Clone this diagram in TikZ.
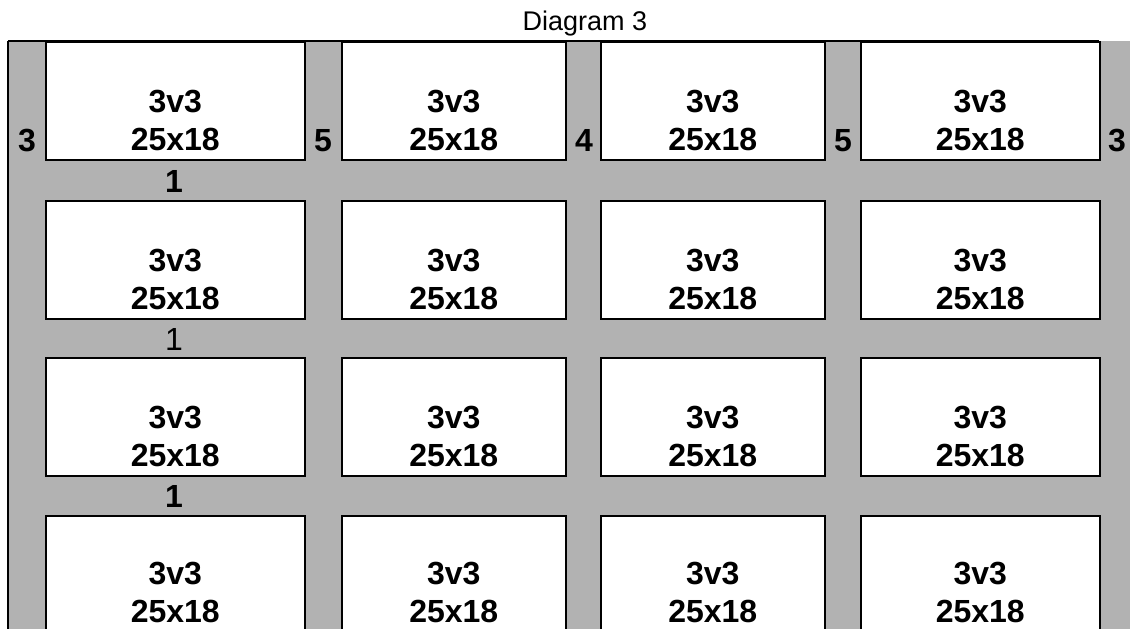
\documentclass[tikz,border=0pt]{standalone}
\usepackage{fontspec}
\setmainfont{Liberation Sans}
\usepackage{tikz}
\usetikzlibrary{positioning,calc}
\colorlet{gapGray}{black!30}

\begin{document}
\begin{tikzpicture}[x=1pt, y=-1pt,
    cell/.style={draw, fill=white, line width=1.5pt, anchor=north west, inner sep=0pt, minimum height=118pt},
    celltxt/.style={font=\bfseries\fontsize{32}{38}\selectfont, align=center, inner sep=0pt, anchor=south},
    gapnum/.style={font=\bfseries\fontsize{32}{38}\selectfont, inner sep=0pt, anchor=base}]
    \clip (0,0) rectangle (1130,629);
    % grey floor and its outer edges
    \fill[gapGray] (8,41) rectangle (1130,629);
    \draw[line width=1.5pt] (8,41) -- (1099,41);
    \draw[line width=2pt] (8,41) -- (8,629);
    \node[font=\fontsize{27}{32}\selectfont, inner sep=0pt, anchor=base] (title) at (585,30) {Diagram 3};
    % row 1
    \node[cell, minimum width=259pt] (c11) at (45,41) {};
    \node[cell, minimum width=224pt] (c12) at (341,41) {};
    \node[cell, minimum width=224pt] (c13) at (600,41) {};
    \node[cell, minimum width=239pt] (c14) at (860,41) {};
    % row 2
    \node[cell, minimum width=259pt] (c21) at (45,200) {};
    \node[cell, minimum width=224pt] (c22) at (341,200) {};
    \node[cell, minimum width=224pt] (c23) at (600,200) {};
    \node[cell, minimum width=239pt] (c24) at (860,200) {};
    % row 3
    \node[cell, minimum width=259pt] (c31) at (45,357) {};
    \node[cell, minimum width=224pt] (c32) at (341,357) {};
    \node[cell, minimum width=224pt] (c33) at (600,357) {};
    \node[cell, minimum width=239pt] (c34) at (860,357) {};
    % row 4
    \node[cell, minimum width=259pt] (c41) at (45,515) {};
    \node[cell, minimum width=224pt] (c42) at (341,515) {};
    \node[cell, minimum width=224pt] (c43) at (600,515) {};
    \node[cell, minimum width=239pt] (c44) at (860,515) {};
    % court texts
    \node[celltxt] (t11) at ([yshift=9pt]c11.south) {3v3\\25x18};
    \node[celltxt] (t12) at ([yshift=9pt]c12.south) {3v3\\25x18};
    \node[celltxt] (t13) at ([yshift=9pt]c13.south) {3v3\\25x18};
    \node[celltxt] (t14) at ([yshift=9pt]c14.south) {3v3\\25x18};
    \node[celltxt] (t21) at ([yshift=9pt]c21.south) {3v3\\25x18};
    \node[celltxt] (t22) at ([yshift=9pt]c22.south) {3v3\\25x18};
    \node[celltxt] (t23) at ([yshift=9pt]c23.south) {3v3\\25x18};
    \node[celltxt] (t24) at ([yshift=9pt]c24.south) {3v3\\25x18};
    \node[celltxt] (t31) at ([yshift=9pt]c31.south) {3v3\\25x18};
    \node[celltxt] (t32) at ([yshift=9pt]c32.south) {3v3\\25x18};
    \node[celltxt] (t33) at ([yshift=9pt]c33.south) {3v3\\25x18};
    \node[celltxt] (t34) at ([yshift=9pt]c34.south) {3v3\\25x18};
    \node[celltxt] (t41) at ([yshift=11pt]c41.south) {3v3\\25x18};
    \node[celltxt] (t42) at ([yshift=11pt]c42.south) {3v3\\25x18};
    \node[celltxt] (t43) at ([yshift=11pt]c43.south) {3v3\\25x18};
    \node[celltxt] (t44) at ([yshift=11pt]c44.south) {3v3\\25x18};
    % gap widths
    \node[gapnum] (g1) at (27,151) {3};
    \node[gapnum] (g2) at (323,151) {5};
    \node[gapnum] (g3) at (584,151) {4};
    \node[gapnum] (g4) at (843,151) {5};
    \node[gapnum] (g5) at (1117,151) {3};
    \node[gapnum] (h1) at (174,192) {1};
    \node[gapnum, font=\fontsize{32}{38}\selectfont] (h2) at (174,350) {1};
    \node[gapnum] (h3) at (174,507) {1};
\end{tikzpicture}
\end{document}
